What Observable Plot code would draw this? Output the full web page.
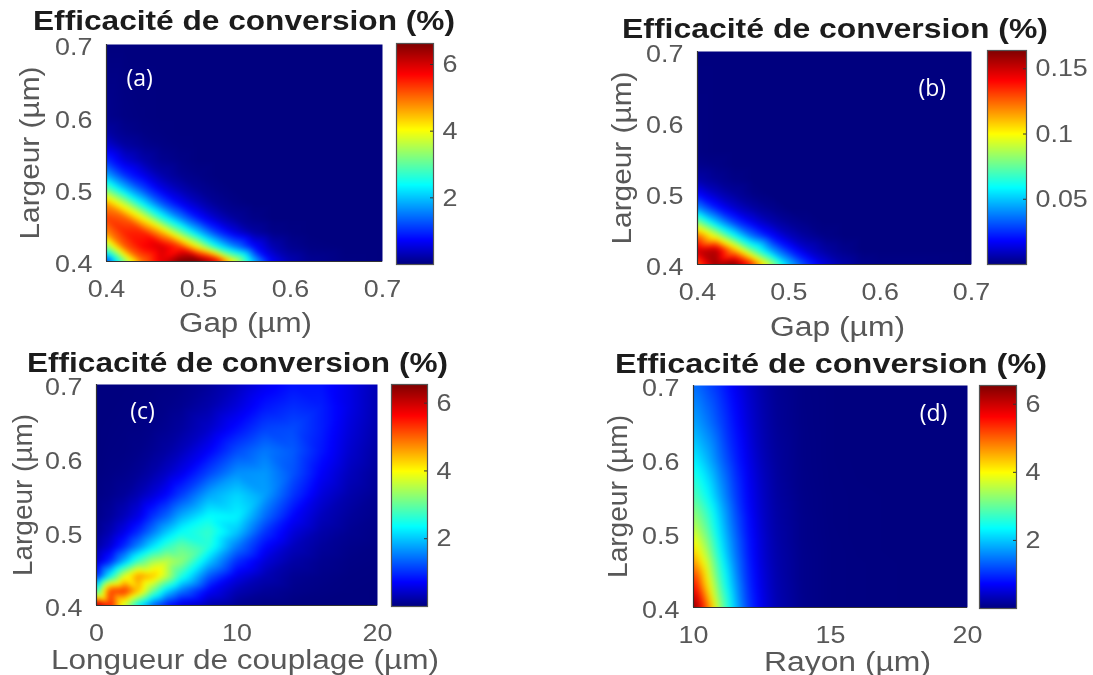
<!DOCTYPE html>
<html><head><meta charset="utf-8">
<script src="https://cdn.jsdelivr.net/npm/d3@7"></script>
<script src="https://cdn.jsdelivr.net/npm/@observablehq/plot@0.6"></script>
<style>
html,body{margin:0;padding:0;background:#fff;width:1093px;height:675px;overflow:hidden}
#root{position:relative;width:1093px;height:675px}
#root svg{position:absolute;background:transparent;overflow:visible;filter:blur(.45px)}
.ttl{position:absolute;white-space:nowrap;font:bold 27px "Liberation Sans",Arial,sans-serif;color:#1c1c1c;transform-origin:0 50%;filter:blur(.4px);line-height:24px}
</style></head><body><div id="root"></div>
<script>
const titleText = "Efficacité de conversion (%)";
const largeurLabel = "Largeur (µm)";
const largeurTicks = [0.4, 0.5, 0.6, 0.7];
const jetFractions = [0, 0.11, 0.36, 0.61, 0.86, 1];
const jetColors = ["#00007f", "#0000ff", "#00ffff", "#ffff00", "#ff0000", "#7f0000"];

// (a)
const gapA = [.40,.42,.44,.46,.48,.50,.52,.54,.56,.58,.60,.62,.66,.70];
const largeurA = [.40,.42,.44,.46,.48,.50,.52,.54,.56,.58,.60,.70];
const valuesA = [
 [1.0,3.2,5.0,5.9,6.7,6.9,6.0,3.9,2.0,.7,.3,.12,.02,0],
 [3.2,5.1,5.7,6.0,5.4,4.0,2.5,1.6,.8,.3,.1,.03,0,0],
 [4.8,5.5,5.5,4.6,3.2,2.0,1.1,.55,.2,.06,.02,0,0,0],
 [5.3,5.1,4.0,2.6,1.6,.85,.4,.15,.05,0,0,0,0,0],
 [4.7,3.6,2.3,1.3,.7,.35,.12,.04,0,0,0,0,0,0],
 [3.1,2.0,1.2,.6,.3,.12,.04,0,0,0,0,0,0,0],
 [1.8,1.0,.6,.25,.1,.04,0,0,0,0,0,0,0,0],
 [1.0,.5,.25,.1,.04,0,0,0,0,0,0,0,0,0],
 [.5,.2,.1,.04,.01,0,0,0,0,0,0,0,0,0],
 [.2,.08,.03,.01,0,0,0,0,0,0,0,0,0,0],
 [.08,.03,.01,0,0,0,0,0,0,0,0,0,0,0],
 [0,0,0,0,0,0,0,0,0,0,0,0,0,0]
];
// (b)
const gapB = [.40,.42,.44,.46,.48,.50,.52,.54,.56,.58,.60,.70];
const largeurB = [.40,.42,.44,.46,.48,.50,.52,.54,.56,.70];
const valuesB = [
 [.125,.158,.165,.135,.09,.05,.027,.013,.006,.002,.001,0],
 [.15,.155,.115,.075,.045,.024,.011,.005,.002,0,0,0],
 [.125,.095,.062,.036,.02,.009,.004,.001,0,0,0,0],
 [.08,.05,.028,.015,.007,.003,.001,0,0,0,0,0],
 [.04,.022,.011,.005,.002,0,0,0,0,0,0,0],
 [.018,.009,.004,.001,0,0,0,0,0,0,0,0],
 [.006,.003,.001,0,0,0,0,0,0,0,0,0],
 [.002,.001,0,0,0,0,0,0,0,0,0,0],
 [.0005,0,0,0,0,0,0,0,0,0,0,0],
 [0,0,0,0,0,0,0,0,0,0,0,0]
];
// (c)
const longueurC = [0,1,2,3,4,5,6,8,10,12,14,16,18,20];
const largeurC = [.40,.42,.44,.46,.48,.50,.52,.55,.58,.61,.64,.67,.70];
const valuesC = [
 [6.4,5.5,3.6,2.2,1.3,.8,.5,.25,.1,.03,.01,0,0,0],
 [2.6,5.3,5.4,4.4,3.1,2.1,1.5,.7,.3,.15,.07,.03,.01,0],
 [.9,2.4,3.8,4.7,4.4,3.6,2.6,1.3,.6,.3,.12,.06,.02,.01],
 [.4,1.0,1.9,2.8,3.4,3.6,3.3,2.0,1.0,.5,.22,.1,.04,.02],
 [.2,.5,1.0,1.6,2.2,2.7,3.0,2.6,1.5,.75,.35,.16,.07,.03],
 [.1,.3,.6,1.0,1.5,2.0,2.4,2.7,2.0,1.05,.52,.24,.11,.05],
 [.06,.17,.35,.6,1.05,1.4,1.85,2.4,2.3,1.4,.72,.34,.16,.07],
 [.03,.08,.15,.3,.5,.75,1.1,1.8,2.1,1.75,1.05,.52,.25,.11],
 [.01,.04,.07,.13,.24,.4,.6,1.15,1.65,1.7,1.25,.7,.35,.15],
 [0,.02,.03,.06,.12,.2,.33,.7,1.2,1.5,1.3,.85,.45,.2],
 [0,.01,.02,.03,.06,.11,.18,.42,.8,1.15,1.2,.9,.52,.25],
 [0,0,.01,.015,.03,.06,.1,.25,.52,.85,1.0,.9,.58,.28],
 [0,0,0,.01,.015,.03,.05,.15,.35,.62,.82,.82,.58,.3]
];
// (d)
const rayonD = [10,10.5,11,11.5,12,12.5,13,14,15,16,18,20];
const largeurD = [.40,.43,.46,.49,.52,.55,.60,.65,.70];
const valuesD = [
 [6.6,5.0,3.2,2.0,1.1,.6,.3,.08,.02,.01,0,0],
 [5.7,4.2,2.8,1.8,1.0,.55,.28,.07,.02,.01,0,0],
 [4.8,3.7,2.5,1.6,.92,.5,.26,.07,.02,.01,0,0],
 [4.0,3.2,2.2,1.45,.85,.47,.24,.06,.02,.005,0,0],
 [3.4,2.8,2.0,1.3,.78,.43,.22,.06,.015,.005,0,0],
 [2.9,2.4,1.75,1.15,.7,.4,.2,.05,.015,.005,0,0],
 [2.3,1.9,1.4,.95,.6,.33,.17,.04,.01,0,0,0],
 [1.8,1.5,1.15,.8,.5,.28,.14,.035,.01,0,0,0],
 [1.45,1.2,.95,.65,.42,.24,.12,.03,.01,0,0,0]
];

const panels = [
 {xs:gapA,ys:largeurA,vals:valuesA,xLabel:"Gap (µm)",xTicks:[.4,.5,.6,.7],xDom:[.4,.7],max:6.63,barTicks:[2,4,6],tag:"(a)",tagX:.436,tagY:.653,
  f:[106,382,44,261],b:[396,433,43,264],t:[33,455,21],ylx:29,xly:322,ylLen:173,xlLen:133,xlDx:1,blur:2},
 {xs:gapB,ys:largeurB,vals:valuesB,xLabel:"Gap (µm)",xTicks:[.4,.5,.6,.7],xDom:[.4,.7],max:.164,barTicks:[.05,.1,.15],tag:"(b)",tagX:.657,tagY:.648,
  f:[697,971,51,264],b:[987,1026,50,264],t:[622,1048,29],ylx:621,xly:326,ylLen:173,xlLen:135,xlDx:3,blur:2},
 {xs:longueurC,ys:largeurC,vals:valuesC,xLabel:"Longueur de couplage (µm)",xTicks:[0,10,20],xDom:[0,20],max:6.55,barTicks:[2,4,6],tag:"(c)",tagX:3.27,tagY:.663,
  f:[96,377,384,605],b:[391,427,384,606],t:[27,448,363],ylx:22,xly:659,ylLen:162,xlLen:388,xlDx:8,blur:2},
 {xs:rayonD,ys:largeurD,vals:valuesD,xLabel:"Rayon (µm)",xTicks:[10,15,20],xDom:[10,20],max:6.55,barTicks:[2,4,6],tag:"(d)",tagX:18.76,tagY:.662,
  f:[693,967,385,607],b:[979,1016,385,608],t:[615,1047,364],ylx:617,xly:661,ylLen:163,xlLen:167,xlDx:17,blur:3}
];

const root = document.getElementById("root");
const txt = "#585858";
const fontStyle = {fontFamily:"Liberation Sans, Arial, sans-serif",background:"transparent"};

function colorOf(max){
  return {type:"linear",domain:jetFractions.map(f=>f*max),range:jetColors,clamp:true};
}
function place(svg,left,top){svg.style.left=left+"px";svg.style.top=top+"px";root.appendChild(svg);}
function stretchTicks(svg){
  svg.querySelectorAll('[aria-label$="tick label"] text').forEach(t=>{
    t.setAttribute("textLength",(t.getComputedTextLength()*1.12).toFixed(1));
    t.setAttribute("lengthAdjust","spacingAndGlyphs");
  });
}
function setLabel(svg,axis,len,dx){
  svg.querySelectorAll(`[aria-label="${axis}-axis label"] text`).forEach(t=>{
    t.setAttribute("font-size",27);
    t.setAttribute("textLength",len);
    t.setAttribute("lengthAdjust","spacingAndGlyphs");
    if(dx) t.setAttribute("dx",dx);
  });
}

for(const p of panels){
  const [x0,x1,y0,y1]=p.f;
  const mL=x0-p.ylx+16, mT=4, mB=p.xly-y1+18, mR=6;
  const rows=[];
  p.ys.forEach((y,j)=>p.xs.forEach((x,i)=>rows.push({x,y,v:p.vals[j][i]})));
  const chart=Plot.plot({
    style:fontStyle,
    width:mL+(x1-x0)+mR,height:mT+(y1-y0)+mB,
    marginLeft:mL,marginRight:mR,marginTop:mT,marginBottom:mB,
    x:{domain:p.xDom,axis:null},y:{domain:[.4,.7],axis:null},
    color:colorOf(p.max),
    marks:[
      Plot.raster(rows,{x:"x",y:"y",fill:"v",interpolate:"barycentric",pixelSize:1,blur:p.blur}),
      Plot.axisX({ticks:p.xTicks,tickSize:0,tickPadding:18,fontSize:24,fill:txt,
        tickFormat:d=>String(d),label:p.xLabel,labelAnchor:"center",labelArrow:"none",labelOffset:p.xly-y1+9}),
      Plot.axisY({ticks:largeurTicks,tickSize:0,tickPadding:14,fontSize:24,fill:txt,dy:3,
        tickFormat:d=>String(d),label:largeurLabel,labelAnchor:"center",labelArrow:"none",labelOffset:x0-p.ylx+10}),
      Plot.ruleX([p.xDom[0]],{stroke:"#333",strokeWidth:1.2}),
      Plot.ruleY([.4],{stroke:"#333",strokeWidth:1.2}),
      Plot.text([p.tag],{x:()=>p.tagX,y:()=>p.tagY,text:d=>d,fill:"#fff",fontSize:23,fontFamily:"Open Sans"})
    ]
  });
  place(chart,x0-mL,y0-mT);
  stretchTicks(chart);
  setLabel(chart,"x",p.xlLen,p.xlDx);
  setLabel(chart,"y",p.ylLen,0);

  const [bx0,bx1,by0,by1]=p.b;
  const bar=Plot.plot({
    style:fontStyle,
    width:(bx1-bx0)+60,height:(by1-by0)+4,
    marginLeft:0,marginRight:60,marginTop:2,marginBottom:2,
    x:{domain:[0,1],axis:null},y:{domain:[0,p.max],axis:null},
    color:colorOf(p.max),
    marks:[
      Plot.raster({fill:(x,y)=>y,x1:0,x2:1,y1:0,y2:p.max,pixelSize:1}),
      Plot.frame({stroke:"#555",strokeWidth:1.2}),
      Plot.tickY(p.barTicks,{y:d=>d,stroke:"#333",insetLeft:bx1-bx0-3}),
      Plot.axisY({anchor:"right",ticks:p.barTicks,tickSize:0,tickPadding:9,fontSize:24,fill:txt,
        tickFormat:d=>String(d),label:null})
    ]
  });
  place(bar,bx0,by0-2);
  stretchTicks(bar);

  const t=document.createElement("div");
  t.className="ttl";t.textContent=titleText;
  t.style.left=p.t[0]+"px";t.style.top=(p.t[2]-12)+"px";
  root.appendChild(t);
  t.style.transform=`scaleX(${(p.t[1]-p.t[0])/t.getBoundingClientRect().width})`;
}
</script></body></html>
